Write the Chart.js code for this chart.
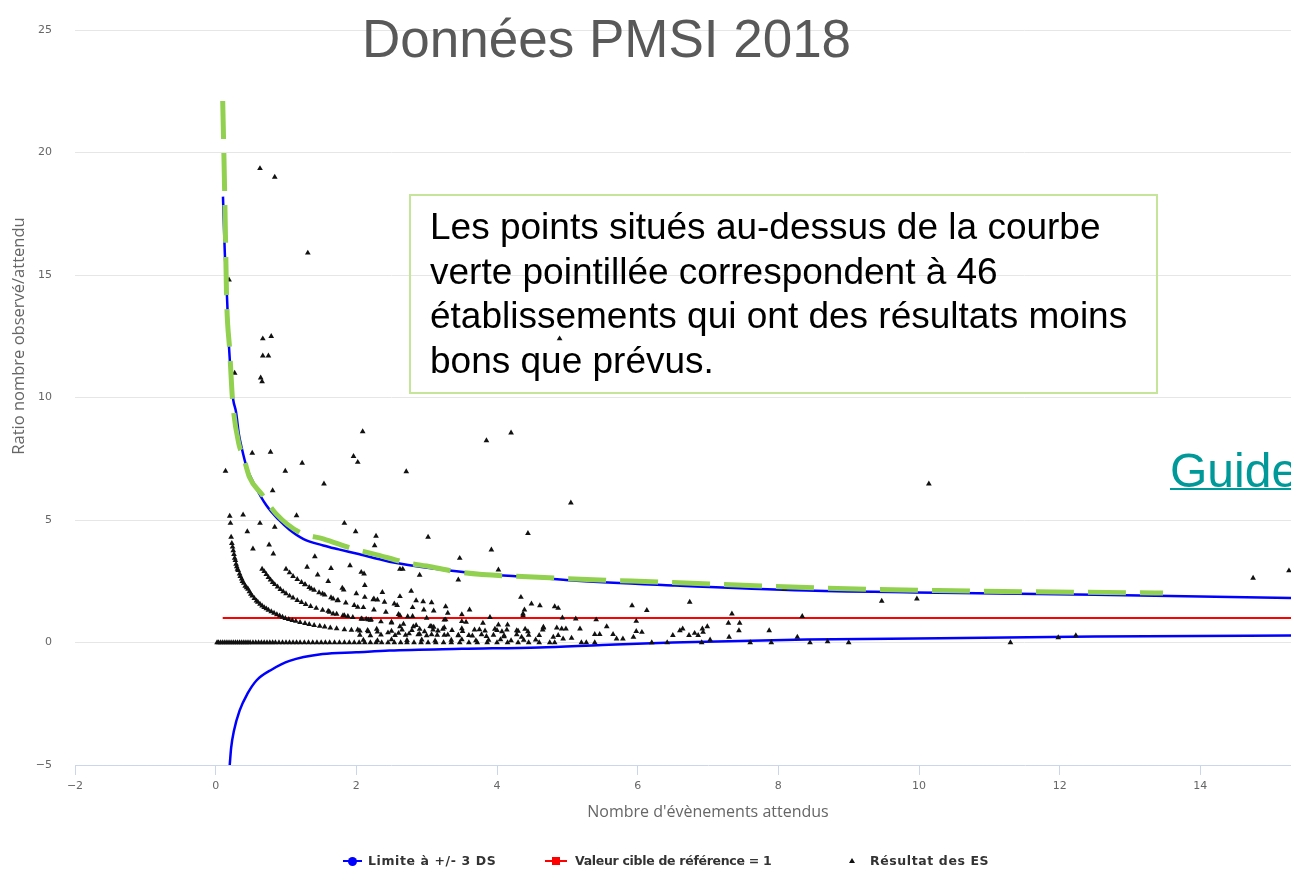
<!DOCTYPE html>
<html lang="fr">
<head>
<meta charset="utf-8">
<title>Données PMSI 2018</title>
<script src="https://cdn.jsdelivr.net/npm/chart.js@4.4.1/dist/chart.umd.min.js"></script>
<style>
  html, body {
    margin: 0;
    padding: 0;
    background: #fff;
    width: 1291px;
    height: 870px;
    overflow: hidden;
  }
  #wrap {
    position: absolute;
    left: 0;
    top: 0;
    width: 1356px;
    height: 870px;
  }
  .overlay {
    position: absolute;
    pointer-events: none;
    white-space: nowrap;
  }
  #slideTitle {
    left: 362px;
    top: 12px;
    font: 53px/53px "Liberation Sans", Arial, sans-serif;
    color: #595959;
  }
  #note {
    left: 409px;
    top: 194px;
    width: 749px;
    height: 200px;
    box-sizing: border-box;
    border: 2px solid #c5e59a;
    padding: 9px 0 0 19px;
    font: 37px/44.5px "Liberation Sans", Arial, sans-serif;
    color: #000;
  }
  #guide {
    left: 1170px;
    top: 447px;
    font: 48px/48px "Liberation Sans", Arial, sans-serif;
    color: #009999;
    text-decoration: underline;
    text-decoration-thickness: 2px;
  }
  #yTitle {
    left: -132px;
    top: 326px;
    width: 300px;
    height: 20px;
    text-align: center;
    font: 16.5px/20px "Open Sans", sans-serif;
    color: #666;
    transform: rotate(-90deg);
  }
  .leg {
    position: absolute;
    top: 852px;
    height: 18px;
    font: bold 12.5px/18px "DejaVu Sans", sans-serif;
    color: #333;
    white-space: nowrap;
  }
  .sym {
    position: absolute;
  }
</style>
</head>
<body>
<div id="wrap"><canvas id="chart"></canvas></div>

<div id="slideTitle" class="overlay">Données PMSI 2018</div>
<div id="note" class="overlay">Les points situés au-dessus de la courbe<br>verte pointillée correspondent à 46<br>établissements qui ont des résultats moins<br>bons que prévus.</div>
<div id="guide" class="overlay">Guide</div>
<div id="yTitle" class="overlay">Ratio nombre observé/attendu</div>

<!-- legend -->
<div class="sym" style="left:343px;top:860px;width:19px;height:2px;background:#0000ff"></div>
<div class="sym" style="left:348px;top:857px;width:9px;height:9px;border-radius:50%;background:#0000ff"></div>
<div class="leg" style="left:368px;letter-spacing:0.6px">Limite à +/- 3 DS</div>
<div class="sym" style="left:545px;top:860px;width:22px;height:2px;background:#ff0000"></div>
<div class="sym" style="left:552px;top:857px;width:8px;height:8px;background:#ff0000"></div>
<div class="leg" style="left:575px;letter-spacing:-0.3px">Valeur cible de référence = 1</div>
<div class="sym" style="left:849px;top:858px;width:0;height:0;border-left:3px solid transparent;border-right:3px solid transparent;border-bottom:5px solid #111"></div>
<div class="leg" style="left:870px;letter-spacing:0.6px">Résultat des ES</div>

<script>
// ---------------------------
// Limits
// ---------------------------
const upperX = [0.104, 0.13, 0.16, 0.19, 0.23, 0.25, 0.29, 0.33, 0.37, 0.44, 0.55, 0.72, 0.9, 1.05, 1.25, 1.53, 1.75, 2.0, 2.47, 3.09, 3.8, 4.51, 5.08, 6.5, 8.4, 10.26, 12.5, 15.29, 16];
const upperY = [18.2, 15.9, 14.2, 12.05, 10.4, 9.9, 9.4, 8.5, 7.95, 7.16, 6.45, 5.6, 5.0, 4.6, 4.22, 3.96, 3.8, 3.63, 3.3, 3.02, 2.8, 2.66, 2.53, 2.33, 2.12, 2.03, 1.95, 1.82, 1.8];

const lowerX = [0.2, 0.22, 0.26, 0.34, 0.45, 0.58, 0.8, 1.05, 1.52, 2.0, 2.47, 3.5, 4.6, 5.5, 6.5, 8.4, 10.3, 12.5, 15.29, 16];
const lowerY = [-5.0, -4.3, -3.6, -2.78, -2.1, -1.55, -1.1, -0.75, -0.47, -0.4, -0.33, -0.26, -0.2, -0.1, 0.0, 0.12, 0.17, 0.24, 0.29, 0.3];

const targetX = [0.1, 16];
const targetY = [1, 1];

// green dashed curve drawn over the slide
const guideX = [0.1, 0.12, 0.14, 0.155, 0.2, 0.24, 0.33, 0.39, 0.48, 0.65, 0.86, 1.19, 1.53, 2.0, 2.24, 2.74, 3.0, 3.47, 4.75, 6.5, 8.4, 10.26, 13.47];
const guideY = [22.1, 19.5, 16.5, 14.1, 11.9, 9.9, 8.1, 7.63, 6.75, 6.07, 5.25, 4.5, 4.23, 3.78, 3.62, 3.24, 3.12, 2.87, 2.64, 2.45, 2.24, 2.12, 2.02];

// ---------------------------
// Résultat des ES (x = attendus, y = ratio)
// ---------------------------
const esZero = [
  [0.02, 0], [0.04, 0], [0.07, 0], [0.1, 0], [0.13, 0], [0.16, 0], [0.19, 0], [0.22, 0], [0.25, 0], [0.28, 0],
  [0.31, 0], [0.34, 0], [0.37, 0], [0.4, 0], [0.43, 0], [0.46, 0], [0.49, 0], [0.53, 0], [0.57, 0], [0.61, 0],
  [0.65, 0], [0.69, 0], [0.73, 0], [0.77, 0], [0.81, 0], [0.85, 0], [0.9, 0], [0.95, 0], [1.0, 0], [1.05, 0],
  [1.1, 0], [1.15, 0], [1.2, 0], [1.26, 0], [1.32, 0], [1.38, 0], [1.44, 0], [1.5, 0], [1.56, 0], [1.62, 0],
  [1.69, 0], [1.76, 0], [1.83, 0], [1.9, 0], [1.97, 0], [2.04, 0], [2.12, 0], [2.2, 0], [2.28, 0], [2.36, 0],
  [2.45, 0], [2.54, 0], [2.63, 0], [2.72, 0], [2.82, 0], [2.92, 0], [3.02, 0], [3.13, 0], [3.24, 0], [3.35, 0],
  [3.47, 0], [3.6, 0], [3.72, 0], [3.86, 0], [4.0, 0], [4.15, 0], [4.3, 0], [4.45, 0], [4.6, 0], [4.75, 0],
  [4.82, 0], [5.2, 0], [5.27, 0], [5.39, 0], [6.2, 0], [6.42, 0], [6.91, 0], [7.6, 0], [7.9, 0], [8.45, 0],
  [9.0, 0], [11.3, 0]
];

const esOneEvent = [
  [0.22, 4.3], [0.23, 4.05], [0.24, 3.9], [0.25, 3.75], [0.26, 3.6], [0.27, 3.45], [0.28, 3.35], [0.29, 3.2],
  [0.3, 3.1], [0.31, 3.0], [0.32, 2.94], [0.34, 2.8], [0.35, 2.7], [0.37, 2.6], [0.38, 2.5], [0.4, 2.42],
  [0.42, 2.3], [0.44, 2.24], [0.46, 2.18], [0.48, 2.08], [0.5, 1.98], [0.52, 1.9], [0.55, 1.8], [0.58, 1.7],
  [0.6, 1.65], [0.63, 1.57], [0.66, 1.5], [0.69, 1.43], [0.72, 1.38], [0.75, 1.32], [0.79, 1.26], [0.83, 1.2],
  [0.87, 1.14], [0.91, 1.09], [0.95, 1.04], [0.99, 0.99], [1.04, 0.95], [1.09, 0.9], [1.14, 0.87], [1.2, 0.82],
  [1.27, 0.78], [1.33, 0.74], [1.4, 0.7], [1.48, 0.67], [1.55, 0.64], [1.63, 0.6], [1.72, 0.57], [1.83, 0.53],
  [1.93, 0.51], [2.05, 0.48], [2.17, 0.45], [2.3, 0.43], [2.45, 0.4], [2.6, 0.38], [2.75, 0.36], [2.9, 0.34],
  [3.07, 0.32], [3.25, 0.3], [3.45, 0.28], [3.65, 0.27], [3.85, 0.25], [4.1, 0.24], [4.35, 0.22]
];

const esTwoEvents = [
  [0.66, 3.0], [0.69, 2.9], [0.72, 2.78], [0.75, 2.66], [0.78, 2.56], [0.81, 2.46], [0.84, 2.37], [0.88, 2.27],
  [0.92, 2.17], [0.96, 2.08], [1.0, 2.0], [1.05, 1.9], [1.1, 1.82], [1.16, 1.72], [1.22, 1.64], [1.28, 1.56],
  [1.35, 1.48], [1.43, 1.4], [1.52, 1.32], [1.62, 1.24], [1.72, 1.16], [1.83, 1.1], [1.95, 1.03], [2.08, 0.96],
  [2.2, 0.91], [2.35, 0.85], [2.5, 0.8], [2.67, 0.75], [2.85, 0.7], [3.05, 0.66], [3.25, 0.61], [3.5, 0.57],
  [3.75, 0.53], [4.0, 0.5], [4.3, 0.47]
];

const esThreeEvents = [
  [1.0, 3.0], [1.05, 2.85], [1.1, 2.7], [1.16, 2.58], [1.22, 2.46], [1.27, 2.36], [1.33, 2.25], [1.4, 2.14],
  [1.47, 2.04], [1.55, 1.94], [1.64, 1.83], [1.74, 1.72], [1.85, 1.62], [1.97, 1.52], [2.1, 1.43], [2.25, 1.33],
  [2.42, 1.24], [2.6, 1.15], [2.8, 1.07], [3.0, 1.0], [3.25, 0.92], [3.5, 0.86], [3.8, 0.79], [4.15, 0.72]
];

const esLow = [
  [2.02, 0.52], [2.16, 0.5], [2.29, 0.55], [2.5, 0.47], [2.65, 0.52], [2.79, 0.5], [2.9, 0.55], [2.97, 0.45],
  [3.09, 0.52], [3.16, 0.48], [3.23, 0.55], [3.36, 0.5], [3.51, 0.46], [3.68, 0.52], [3.83, 0.48], [3.97, 0.55],
  [4.07, 0.45], [4.14, 0.52], [4.28, 0.49], [4.4, 0.55], [4.44, 0.45], [4.65, 0.52],
  [2.05, 0.3], [2.2, 0.28], [2.35, 0.31], [2.55, 0.29], [2.7, 0.3], [2.88, 0.32], [3.0, 0.28], [3.15, 0.3],
  [3.3, 0.31], [3.45, 0.3], [3.6, 0.29], [3.78, 0.32], [3.95, 0.3], [4.1, 0.28], [4.28, 0.32], [4.45, 0.3], [4.6, 0.29],
  [2.1, 0.1], [2.3, 0.08], [2.5, 0.12], [2.72, 0.09], [2.93, 0.11], [3.12, 0.07], [3.35, 0.1], [3.5, 0.12],
  [3.7, 0.08], [3.88, 0.1], [4.05, 0.12], [4.2, 0.08], [4.38, 0.1], [4.55, 0.11],
  [2.62, 0.65], [2.81, 0.65], [3.07, 0.65], [3.1, 0.63], [4.66, 0.63], [2.5, 0.83], [3.27, 0.93], [3.56, 0.83],
  [4.02, 0.72], [3.3, 1.2], [3.9, 1.03], [3.5, 1.14]
];

const esRight = [
  [4.61, 1.51], [4.82, 1.47], [4.87, 1.4], [4.93, 1.01], [5.12, 0.97], [5.41, 0.93], [5.92, 1.51], [6.13, 1.31],
  [5.98, 0.87], [6.74, 1.65], [7.34, 1.17], [8.34, 1.07], [7.29, 0.79], [7.45, 0.79], [4.66, 0.6], [4.85, 0.6],
  [4.92, 0.56], [4.98, 0.56], [5.18, 0.56], [5.56, 0.65], [5.98, 0.46], [6.06, 0.42], [6.6, 0.49], [6.64, 0.56],
  [6.92, 0.56], [6.99, 0.65], [7.44, 0.49], [7.87, 0.49], [5.39, 0.33], [5.46, 0.33], [5.65, 0.33], [6.5, 0.29],
  [6.73, 0.29], [6.81, 0.38], [6.86, 0.29], [6.93, 0.42], [7.3, 0.22], [8.27, 0.22], [5.06, 0.18], [4.8, 0.22],
  [4.87, 0.29], [4.94, 0.15], [5.7, 0.15], [5.79, 0.15], [5.94, 0.22], [7.03, 0.11], [8.7, 0.04], [11.98, 0.2],
  [12.23, 0.28], [8.09, 2.19], [9.47, 1.69], [9.97, 1.78], [14.75, 2.63], [15.26, 2.93]
];

const esHigh = [
  [0.63, 19.35], [0.84, 19.0], [1.31, 15.9], [0.19, 14.8], [0.67, 12.4], [0.79, 12.5], [0.67, 11.7], [0.75, 11.7],
  [0.27, 11.0], [0.64, 10.8], [0.66, 10.65], [4.89, 12.4], [0.14, 7.0], [0.52, 7.73], [0.78, 7.77], [0.99, 7.0],
  [1.23, 7.32], [1.54, 6.48], [1.96, 7.6], [2.02, 7.36], [2.09, 8.61], [2.71, 6.98], [3.85, 8.24], [4.2, 8.56],
  [0.81, 6.2], [5.05, 5.7], [10.14, 6.48],
  [0.2, 5.16], [0.21, 4.87], [0.39, 5.21], [0.45, 4.53], [0.63, 4.87], [0.84, 4.71], [1.15, 5.18], [0.53, 3.82],
  [0.76, 3.99], [0.82, 3.62], [1.41, 3.51], [1.64, 3.03], [1.83, 4.87], [1.99, 4.53], [2.28, 4.34], [2.26, 3.96],
  [3.02, 4.3], [4.44, 4.46], [3.47, 3.44], [3.92, 3.78], [3.45, 2.56], [4.02, 2.97], [2.62, 3.0], [2.66, 3.0],
  [2.9, 2.75], [1.91, 3.14], [2.07, 2.87], [2.11, 2.8], [2.12, 2.33], [2.37, 2.05], [2.78, 2.1], [2.62, 1.88],
  [2.85, 1.71], [2.95, 1.67], [3.07, 1.63], [2.96, 1.33], [3.27, 1.47], [3.61, 1.33], [2.12, 1.85], [2.24, 1.75],
  [2.3, 1.74], [2.4, 1.65], [2.54, 1.58], [2.58, 1.52], [2.02, 1.44], [2.62, 1.1], [2.73, 1.06], [4.34, 1.85],
  [4.39, 1.33], [4.49, 1.58], [4.37, 1.1], [4.37, 1.17], [1.82, 2.15], [1.67, 1.78], [1.73, 1.71], [1.52, 1.99],
  [1.36, 2.19], [1.27, 2.37], [1.81, 1.1], [1.88, 1.07], [1.6, 1.28], [1.67, 1.17], [2.17, 0.93], [2.21, 0.93],
  [2.07, 0.97], [2.14, 0.96], [1.3, 3.08], [1.45, 2.76], [1.6, 2.5], [1.8, 2.22], [2.0, 2.0], [2.25, 1.78],
  [2.8, 1.43], [3.1, 1.29]
];

const seriesNames = ["Limite à +/- 3 DS", "Valeur cible de référence = 1", "Résultat des ES"];

// ---------------------------
// Build chart
// ---------------------------
const xy = (xs, ys) => xs.map((x, i) => ({ x: x, y: ys[i] }));

const esData = []
  .concat(esZero, esOneEvent, esTwoEvents, esThreeEvents, esLow, esRight, esHigh)
  .map((p) => ({ x: p[0], y: p[1] }));

const tickFont = { family: "'DejaVu Sans', sans-serif", size: 11 };
const minus = (v) => String(v).replace("-", "\u2212");

new Chart(document.getElementById("chart"), {
  type: "scatter",
  data: {
    datasets: [
      {
        label: "guide",
        data: xy(guideX, guideY),
        showLine: true,
        borderColor: "#92d050",
        borderWidth: 5,
        borderDash: [38, 14],
        borderCapStyle: "butt",
        pointRadius: 0,
        cubicInterpolationMode: "monotone",
      },
      {
        label: seriesNames[2],
        data: esData,
        pointStyle: "triangle",
        pointRadius: 3.3,
        backgroundColor: "#111",
        borderColor: "#111",
        borderWidth: 0,
      },
      {
        label: seriesNames[0],
        data: xy(upperX, upperY),
        showLine: true,
        borderColor: "#0000ff",
        borderWidth: 2.5,
        pointRadius: 0,
        cubicInterpolationMode: "monotone",
      },
      {
        label: seriesNames[0] + " (bas)",
        data: xy(lowerX, lowerY),
        showLine: true,
        borderColor: "#0000ff",
        borderWidth: 2.5,
        pointRadius: 0,
        cubicInterpolationMode: "monotone",
      },
      {
        label: seriesNames[1],
        data: xy(targetX, targetY),
        showLine: true,
        borderColor: "#ff0000",
        borderWidth: 2,
        pointRadius: 0,
      },
    ],
  },
  options: {
    responsive: true,
    maintainAspectRatio: false,
    animation: false,
    layout: { padding: { left: 0, top: 30, right: 15, bottom: 35 } },
    plugins: {
      legend: { display: false },
      tooltip: { enabled: false },
    },
    scales: {
      x: {
        type: "linear",
        min: -2,
        max: 16,
        ticks: {
          stepSize: 2,
          font: tickFont,
          color: "#666",
          padding: 5,
          callback: minus,
        },
        grid: {
          drawOnChartArea: false,
          drawTicks: true,
          tickLength: 10,
          tickColor: "#ccd6eb",
        },
        border: { display: true, color: "#ccd6eb", width: 1 },
        title: {
          display: true,
          text: "Nombre d'évènements attendus",
          color: "#666",
          font: { family: "'Open Sans', sans-serif", size: 16 },
          padding: { top: 0, bottom: 13 },
        },
        afterFit: (scale) => { scale.height = 70; },
      },
      y: {
        min: -5,
        max: 25,
        ticks: {
          stepSize: 5,
          font: tickFont,
          color: "#666",
          padding: 23,
          callback: minus,
        },
        grid: {
          color: (ctx) => (ctx.tick && ctx.tick.value === -5 ? "rgba(0,0,0,0)" : "#e6e6e6"),
          drawTicks: false,
        },
        border: { display: false },
        afterFit: (scale) => { scale.width = 75; },
      },
    },
  },
});
</script>
</body>
</html>
